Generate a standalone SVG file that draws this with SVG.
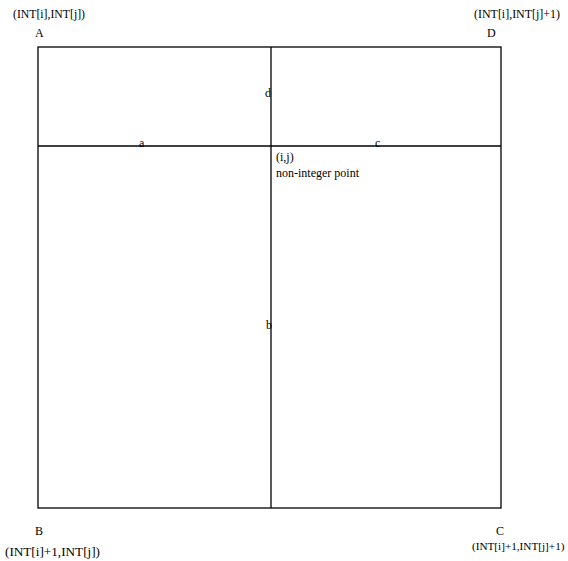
<svg xmlns="http://www.w3.org/2000/svg" width="568" height="561" viewBox="0 0 568 561">
<style>
text{font-family:"Liberation Serif","Times New Roman",serif;font-size:12px;fill:#000}
.ln{stroke:#000;stroke-width:1.3;fill:none}
</style>
<rect width="568" height="561" fill="#fff"/>
<g id="box"><rect class="ln" x="38" y="47" width="463" height="461"/></g>
<g id="connectors">
<line class="ln" x1="38" y1="146" x2="501" y2="146"/>
<line class="ln" x1="271" y1="47" x2="271" y2="508"/>
</g>
<g id="A"><text x="35" y="37">A</text><text x="13" y="18" textLength="72" lengthAdjust="spacingAndGlyphs">(INT[i],INT[j])</text></g>
<g id="D"><text x="487" y="37">D</text><text x="474" y="18" textLength="86" lengthAdjust="spacingAndGlyphs">(INT[i],INT[j]+1)</text></g>
<g id="B"><text x="35" y="535">B</text><text x="5" y="556" textLength="95" lengthAdjust="spacingAndGlyphs">(INT[i]+1,INT[j])</text></g>
<g id="C"><text x="496" y="535">C</text><text x="472" y="550" style="font-size:11.2px">(INT[i]+1,INT[j]+1)</text></g>
<g id="labels">
<text x="139" y="147">a</text>
<text x="375" y="147">c</text>
<text x="265" y="97">d</text>
<text x="266" y="329">b</text>
<text x="276" y="161">(i,j)</text>
<text x="276" y="177">non-integer point</text>
</g>
</svg>
